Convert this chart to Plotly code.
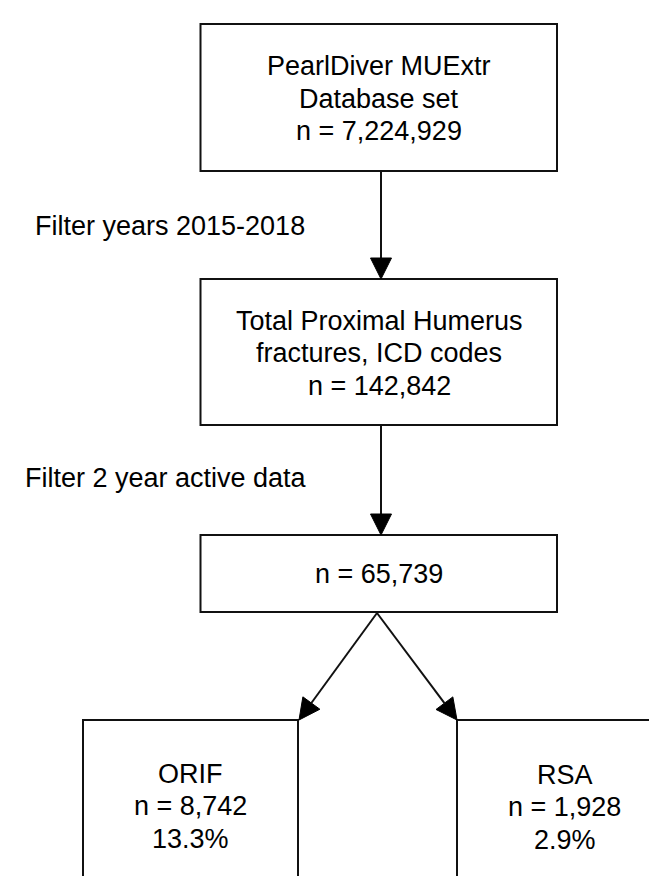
import math
import plotly.graph_objects as go

# ---- data ----
box_titles = ["PearlDiver MUExtr|Database set",
              "Total Proximal Humerus|fractures, ICD codes",
              "",
              "ORIF",
              "RSA"]
box_counts = [7224929, 142842, 65739, 8742, 1928]
box_percents = [None, None, None, 13.3, 2.9]
filter_labels = ["Filter years 2015-2018", "Filter 2 year active data"]
edges = [(0, 1), (1, 2), (2, 3), (2, 4)]

# ---- layout geometry (pixels, y downward) ----
W, H = 657, 876
box_x0 = [192.5, 192.5, 192.5, 75, 449]
box_x1 = [549, 549, 549, 290, 664]
box_y0 = [16, 271, 527, 712, 712]
box_y1 = [163, 417, 604, 920, 920]
text_cy = [90.5, 345, 566, 798, 799]
text_cx = [371, 371, 371, 182.5, 556.5]
line_gap = 32.5
filter_pos = [(25, 218), (15, 470)]
edge_start = [(373, 163), (373, 417), (369, 605), (369, 605)]
edge_end = [(373, 271), (373, 527), (291, 712), (449, 712)]

FONT = "Liberation Sans, Arial, Helvetica, sans-serif"
FS = 27
INK = "#111111"

fig = go.Figure()
fig.add_trace(go.Scatter(x=[0, W], y=[0, H], mode="markers",
                         marker=dict(opacity=0), hoverinfo="skip", showlegend=False))

shapes = []
annotations = []

for i in range(len(box_counts)):
    shapes.append(dict(type="rect", xref="x", yref="y",
                       x0=box_x0[i], x1=box_x1[i], y0=box_y0[i], y1=box_y1[i],
                       line=dict(color=INK, width=2), fillcolor="rgba(0,0,0,0)"))
    lines = [t for t in box_titles[i].split("|") if t]
    lines.append(f"n = {box_counts[i]:,}")
    if box_percents[i] is not None:
        lines.append(f"{box_percents[i]:.1f}%")
    n = len(lines)
    for k, txt in enumerate(lines):
        y = text_cy[i] + (k - (n - 1) / 2) * line_gap
        annotations.append(dict(x=text_cx[i], y=y, xref="x", yref="y", text=txt,
                                showarrow=False, xanchor="center", yanchor="middle",
                                font=dict(family=FONT, size=FS, color="#000")))

for (lbl, (fx, fy)) in zip(filter_labels, filter_pos):
    annotations.append(dict(x=fx, y=fy, xref="x", yref="y", text=lbl, showarrow=False,
                            xanchor="left", yanchor="middle",
                            font=dict(family=FONT, size=FS, color="#000")))

head_len, head_half = 21, 10.5
for (sx, sy), (ex, ey) in zip(edge_start, edge_end):
    dx, dy = ex - sx, ey - sy
    L = math.hypot(dx, dy)
    ux, uy = dx / L, dy / L
    bx, by = ex - ux * head_len, ey - uy * head_len
    shapes.append(dict(type="line", xref="x", yref="y", x0=sx, y0=sy, x1=bx, y1=by,
                       line=dict(color=INK, width=2)))
    px, py = -uy, ux
    path = (f"M {ex},{ey} L {bx + px * head_half},{by + py * head_half} "
            f"L {bx - px * head_half},{by - py * head_half} Z")
    shapes.append(dict(type="path", xref="x", yref="y", path=path,
                       fillcolor="#000", line=dict(color="#000", width=1)))

fig.update_layout(
    width=W, height=H, margin=dict(l=0, r=0, t=0, b=0),
    paper_bgcolor="white", plot_bgcolor="white",
    xaxis=dict(range=[0, W], visible=False, fixedrange=True),
    yaxis=dict(range=[H, 0], visible=False, fixedrange=True),
    shapes=shapes, annotations=annotations, showlegend=False,
)

fig.write_html("out.html", config={"displayModeBar": False})
